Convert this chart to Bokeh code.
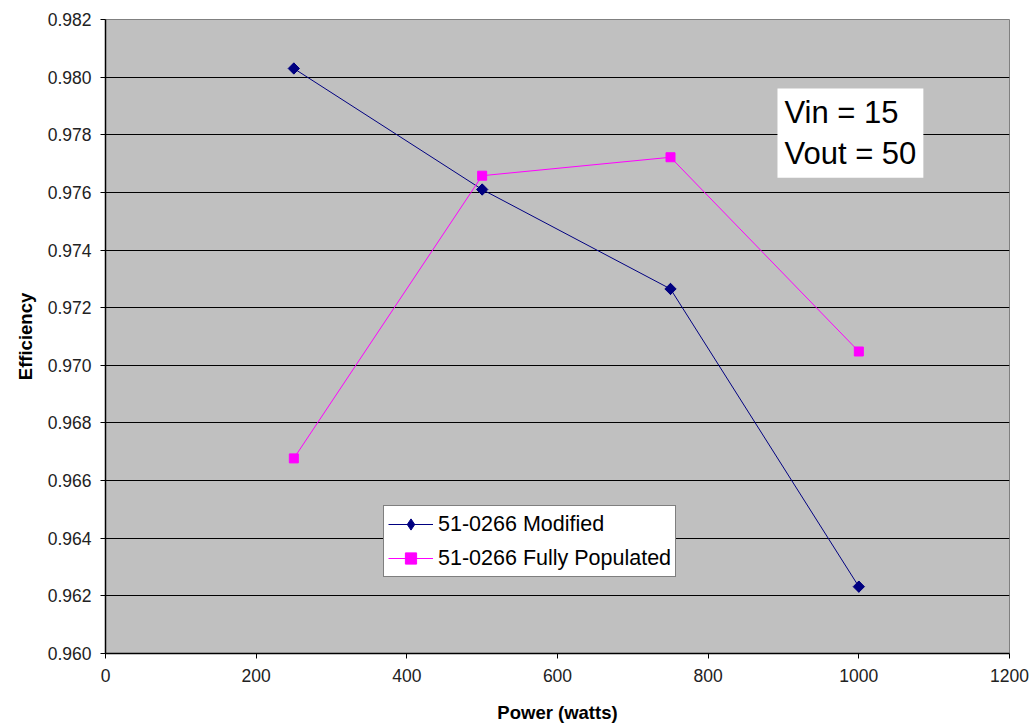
from bokeh.plotting import figure
from bokeh.models import FixedTicker, NumeralTickFormatter, Legend, LegendItem, Label, Range1d, ColumnDataSource
from bokeh.embed import file_html
from bokeh.resources import INLINE

power = [250, 500, 750, 1000]
eff_modified = [0.98030, 0.97610, 0.97265, 0.96232]
eff_full = [0.96677, 0.97658, 0.97722, 0.97048]
x_ticks = [0, 200, 400, 600, 800, 1000, 1200]
y_ticks = [0.960, 0.962, 0.964, 0.966, 0.968, 0.970, 0.972, 0.974, 0.976, 0.978, 0.980, 0.982]
series_names = ["51-0266 Modified", "51-0266 Fully Populated"]
note_text = "Vin = 15\nVout = 50"

FONT = "Liberation Sans"

p = figure(width=1030, height=726, output_backend="svg", toolbar_location=None,
           x_range=Range1d(0, 1200), y_range=Range1d(0.960, 0.982),
           min_border_left=105, min_border_right=21, min_border_top=19, min_border_bottom=73)
p.background_fill_color = "#C0C0C0"
p.border_fill_color = "white"
p.outline_line_color = "#808080"
p.outline_line_width = 1

p.xgrid.grid_line_color = None
p.ygrid.grid_line_color = "#000000"
p.ygrid.grid_line_width = 1.2

p.xaxis.ticker = FixedTicker(ticks=x_ticks)
p.yaxis.ticker = FixedTicker(ticks=y_ticks)
p.yaxis.formatter = NumeralTickFormatter(format="0.000")
for ax in (p.xaxis, p.yaxis):
    ax.axis_line_color = "#000000"
    ax.axis_line_width = 1.5
    ax.major_tick_line_color = "#000000"
    ax.major_tick_in = 0
    ax.major_tick_out = 5
    ax.minor_tick_line_color = None
    ax.major_label_text_font = FONT
    ax.major_label_text_font_size = "17.5px"
    ax.major_label_text_color = "#222222"
    ax.axis_label_text_font = FONT
    ax.axis_label_text_font_style = "bold"
    ax.axis_label_text_font_size = "18.5px"
    ax.axis_label_text_color = "#000000"
p.xaxis.axis_label = "Power (watts)"
p.yaxis.axis_label = "Efficiency"
p.xaxis.major_label_standoff = 10
p.yaxis.major_label_standoff = 9
p.xaxis.axis_label_standoff = 17
p.yaxis.axis_label_standoff = 9

src1 = ColumnDataSource(dict(x=power, y=eff_modified))
src2 = ColumnDataSource(dict(x=power, y=eff_full))

l1 = p.line("x", "y", source=src1, line_color="#000080", line_width=1)
# diamond used for the legend swatch; hidden beneath the rotated squares on the plot
k1 = p.scatter("x", "y", source=src1, marker="diamond", size=11,
               fill_color="#000080", line_color="#000080")
m1 = p.scatter("x", "y", source=src1, marker="square", angle=0.7854, size=8,
               fill_color="#000080", line_color="#000080")
l2 = p.line("x", "y", source=src2, line_color="#FF00FF", line_width=1)
m2 = p.scatter("x", "y", source=src2, marker="square", size=9, fill_color="#FF00FF", line_color="#FF00FF")

legend = Legend(items=[LegendItem(label=series_names[0], renderers=[l1, k1]),
                       LegendItem(label=series_names[1], renderers=[l2, m2])],
                location=(278, 76), orientation="vertical")
legend.background_fill_color = "white"
legend.background_fill_alpha = 1
legend.border_line_color = "#000000"
legend.border_line_width = 1
legend.label_text_font = FONT
legend.label_text_font_size = "21.5px"
legend.label_text_color = "#000000"
legend.glyph_width = 45
legend.glyph_height = 28
legend.label_height = 28
legend.label_standoff = 5
legend.padding = 4
legend.spacing = 6
legend.margin = 0
p.add_layout(legend, "center")

note = Label(x=892, y=0.97961, text=note_text, anchor="top_left",
             text_font=FONT, text_font_size="31px", text_color="#000000",
             text_line_height=1.15, background_fill_color="white",
             border_line_color=None, padding=7)
p.add_layout(note)

open("out.html", "w").write(file_html(p, INLINE))
